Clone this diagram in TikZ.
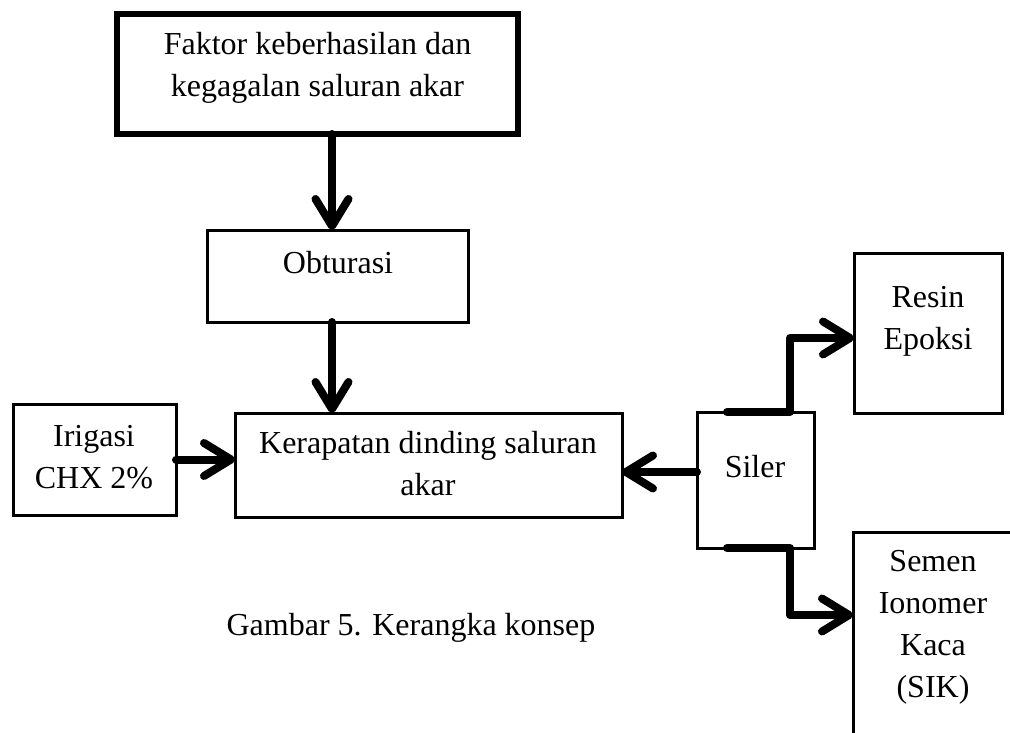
\documentclass[tikz,border=0pt]{standalone}
\usepackage{fontspec}
\setmainfont{Liberation Serif}
\usetikzlibrary{arrows.meta,calc}
\begin{document}
\begin{tikzpicture}[x=1pt,y=-1pt,
  box/.style={draw,line width=3pt,inner sep=0pt,outer sep=0pt},
  txt/.style={inner sep=0pt,align=center,anchor=base,font=\fontsize{32}{42}\selectfont},
  conn/.style={line width=8pt,line cap=round,line join=round,-{Straight Barb[length=27pt,width=33pt,round]}}]
\useasboundingbox[fill=white] (0,0) rectangle (1010,733);
\clip (0,0) rectangle (1010,733);
% boxes
\node[box,line width=5.5pt,minimum width=401pt,minimum height=120pt] (top) at (317.5,74) {};
\node[box,minimum width=261pt,minimum height=92pt] (obt) at (337.5,276) {};
\node[box,minimum width=387pt,minimum height=104pt] (ker) at (428.5,465) {};
\node[box,minimum width=163pt,minimum height=111pt] (iri) at (94.5,459.5) {};
\node[box,minimum width=117pt,minimum height=136pt] (sil) at (755.5,480) {};
\node[box,minimum width=148pt,minimum height=160pt] (res) at (928,333) {};
\node[box,minimum width=167pt,minimum height=220pt] (sem) at (936.5,642) {};
% texts (base anchor = baseline of last line)
\node[txt] (topT) at (317.5,97) {Faktor keberhasilan dan\\kegagalan saluran akar};
\node[txt] (obtT) at (338,273) {Obturasi};
\node[txt] (kerT) at (428,495) {Kerapatan dinding saluran\\akar};
\node[txt] (iriT) at (94,488) {Irigasi\\CHX 2\%};
\node[txt] (silT) at (755,477) {Siler};
\node[txt] (resT) at (928,349) {Resin\\Epoksi};
\node[txt] (semT) at (933,697) {Semen\\Ionomer\\Kaca\\(SIK)};
\node[txt] (cap) at (411,635) {Gambar 5. Kerangka konsep};
% connectors
\coordinate (ax) at (332,0);
\draw[conn] (ax |- top.south) -- (ax |- obt.north);
\draw[conn] (ax |- obt.south) -- (ax |- ker.north);
\draw[conn] (iri.east) -- (iri.east -| ker.west);
\draw[conn] ($(sil.west)+(0,-8)$) coordinate (s0) -- (s0 -| ker.east);
\draw[conn] ($(sil.north west)+(30,0)$) -- ($(sil.north west)+(93,0)$) |- ($(res.west)+(0,5)$);
\draw[conn] ($(sil.south west)+(30,0)$) -- ($(sil.south west)+(93,0)$) |- ($(sem.west)+(0,-27)$);
\end{tikzpicture}
\end{document}
